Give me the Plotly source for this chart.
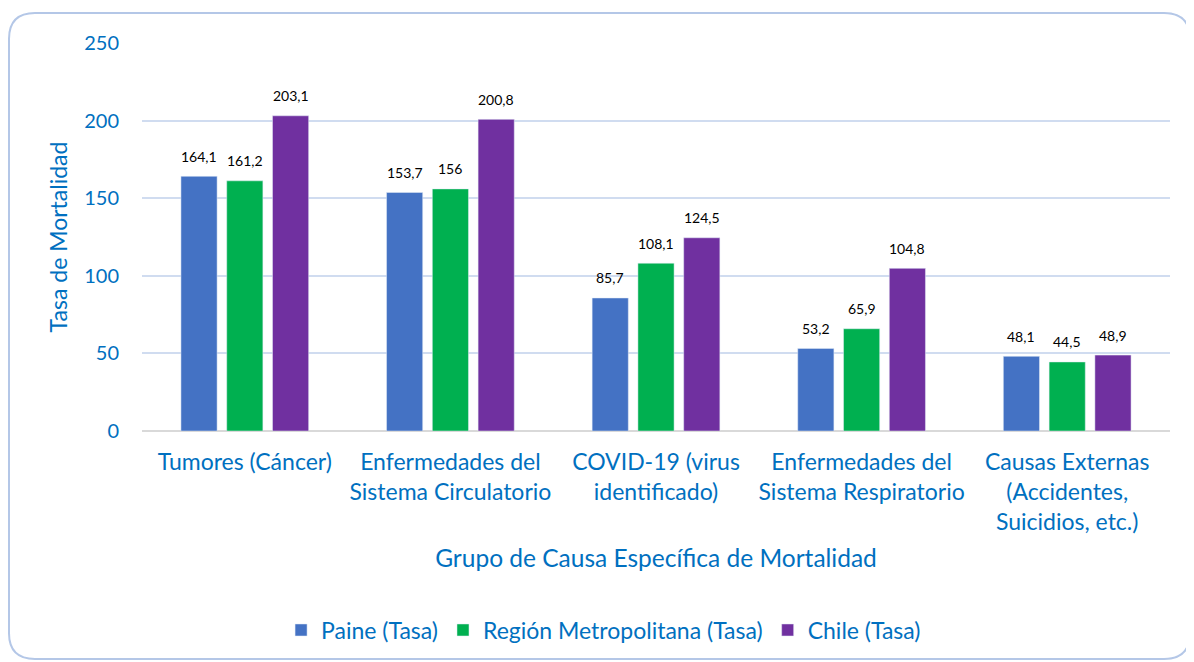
import plotly.graph_objs as go

CATEGORIAS = [
    'Tumores (Cáncer)',
    'Enfermedades del<br>Sistema Circulatorio',
    'COVID-19 (virus<br>identificado)',
    'Enfermedades del<br>Sistema Respiratorio',
    'Causas Externas<br>(Accidentes,<br>Suicidios, etc.)',
]
PAINE = [164.1, 153.7, 85.7, 53.2, 48.1]
REGION_METRO = [161.2, 156, 108.1, 65.9, 44.5]
CHILE = [203.1, 200.8, 124.5, 104.8, 48.9]
Y_TICKS = [0, 50, 100, 150, 200, 250]

SERIES = [
    ('Paine (Tasa)', PAINE, '#4472c4'),
    ('Región Metropolitana (Tasa)', REGION_METRO, '#00b050'),
    ('Chile (Tasa)', CHILE, '#7030a0'),
]

FONT = 'Lato'
AZUL = '#0070c0'

# page body has an 8px margin, so the figure is a bit smaller than the window
W, H = 1186, 654
ML, MR, MT, MB = 134, 24, 35, 231
BARGAP = 0.332


def fmt(v):
    return f'{v:g}'.replace('.', ',')


def px_to_paper(xp, yp):
    pw = W - ML - MR
    ph = H - MT - MB
    return (xp - ML) / pw, (H - MB - yp) / ph


def marco():
    # rounded frame around the whole chart
    x0, y0, x1, y1, r = 1, 5, 1182, 651, 26
    pts = {
        'a': px_to_paper(x0 + r, y0), 'b': px_to_paper(x1 - r, y0),
        'c': px_to_paper(x1, y0), 'd': px_to_paper(x1, y0 + r),
        'e': px_to_paper(x1, y1 - r), 'f': px_to_paper(x1, y1),
        'g': px_to_paper(x1 - r, y1), 'h': px_to_paper(x0 + r, y1),
        'i': px_to_paper(x0, y1), 'j': px_to_paper(x0, y1 - r),
        'k': px_to_paper(x0, y0 + r), 'l': px_to_paper(x0, y0),
    }
    p = lambda k: f'{pts[k][0]:.5f},{pts[k][1]:.5f}'
    path = (f"M {p('a')} L {p('b')} Q {p('c')} {p('d')} L {p('e')} "
            f"Q {p('f')} {p('g')} L {p('h')} Q {p('i')} {p('j')} "
            f"L {p('k')} Q {p('l')} {p('a')} Z")
    return dict(type='path', xref='paper', yref='paper', path=path,
                line=dict(color='#b4c7e7', width=2), layer='below')


def main():
    fig = go.Figure()
    # width of one bar slot in pixels, used to put the value labels above each bar
    slot = (W - ML - MR) / len(CATEGORIAS) * (1 - BARGAP) / len(SERIES)
    etiquetas = []
    for i, (nombre, valores, color) in enumerate(SERIES):
        fig.add_trace(go.Bar(
            x=CATEGORIAS, y=valores, name=nombre,
            marker=dict(color=color),
        ))
        for cat, v in zip(CATEGORIAS, valores):
            etiquetas.append(dict(
                x=cat, y=v, text=fmt(v), showarrow=False,
                xshift=(i - 1) * slot, yshift=20, yanchor='middle',
                font=dict(family=FONT, size=14, color='black'),
            ))

    fig.update_layout(
        width=W, height=H,
        margin=dict(l=ML, r=MR, t=MT, b=MB, autoexpand=False),
        paper_bgcolor='white', plot_bgcolor='white',
        font=dict(family=FONT, color=AZUL),
        barmode='group', bargap=BARGAP, bargroupgap=0.21,
        showlegend=True,
        legend=dict(orientation='h', x=0.449, xanchor='center',
                    y=-0.513, yanchor='middle',
                    font=dict(size=23, color=AZUL)),
        annotations=etiquetas,
        shapes=[marco()],
    )
    fig.update_xaxes(
        tickfont=dict(size=23, color=AZUL), ticks='', ticklabelstandoff=15,
        title=dict(text='Grupo de Causa Específica de Mortalidad',
                   font=dict(size=24.5, color=AZUL), standoff=16),
        showline=False, automargin=False,
    )
    fig.update_yaxes(
        range=[0, 250], tickvals=Y_TICKS,
        tickfont=dict(size=20, color=AZUL), ticks='', ticklabelstandoff=22,
        showgrid=True, gridcolor='#d0dcf0', gridwidth=1.5,
        zeroline=True, zerolinecolor='#d9d9d9', zerolinewidth=2,
        title=dict(text='Tasa de Mortalidad',
                   font=dict(size=23, color=AZUL), standoff=10),
        automargin=False,
    )
    fig.write_html('out.html')


if __name__ == '__main__':
    main()
